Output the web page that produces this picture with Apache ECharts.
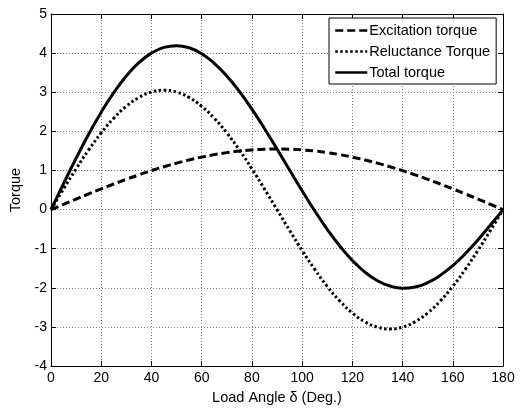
<!DOCTYPE html>
<html>
<head>
<meta charset="utf-8">
<script src="https://cdn.jsdelivr.net/npm/echarts@6/dist/echarts.min.js"></script>
<style>html,body{margin:0;padding:0;background:#fff;overflow:hidden;}#c{width:520px;height:410px;}</style>
</head>
<body>
<div id="c"></div>
<script>
// Load angle (deg.)
var angles = [0,5,10,15,20,25,30,35,40,45,50,55,60,65,70,75,80,85,90,95,100,105,110,115,120,125,130,135,140,145,150,155,160,165,170,175,180];
// Excitation torque
var excitation = [0,0.135,0.269,0.401,0.530,0.655,0.775,0.889,0.996,1.096,1.187,1.270,1.342,1.405,1.457,1.497,1.526,1.544,1.55,1.544,1.526,1.497,1.457,1.405,1.342,1.270,1.187,1.096,0.996,0.889,0.775,0.655,0.530,0.401,0.269,0.135,0];
// Reluctance torque
var reluctance = [0,0.530,1.043,1.525,1.961,2.336,2.641,2.866,3.004,3.05,3.004,2.866,2.641,2.336,1.961,1.525,1.043,0.530,0,-0.530,-1.043,-1.525,-1.961,-2.336,-2.641,-2.866,-3.004,-3.05,-3.004,-2.866,-2.641,-2.336,-1.961,-1.525,-1.043,-0.530,0];
// Total torque
var total = [0,0.665,1.312,1.926,2.491,2.991,3.416,3.755,4.000,4.146,4.191,4.136,3.983,3.741,3.418,3.022,2.569,2.074,1.55,1.014,0.483,-0.028,-0.504,-0.931,-1.299,-1.596,-1.817,-1.954,-2.008,-1.977,-1.866,-1.681,-1.431,-1.124,-0.774,-0.395,0];
var seriesNames = ['Excitation torque','Reluctance Torque','Total torque'];
var xTicks = {min:0, max:180, step:20};
var yTicks = {min:-4, max:5, step:1};

function pairs(ys){ return angles.map(function(a,i){ return [a, ys[i]]; }); }

var font = 'Liberation Sans, Arial, Helvetica, sans-serif';
var chart = echarts.init(document.getElementById('c'), null, {renderer:'canvas', width:520, height:410});
var gridLine = {show:true, lineStyle:{color:'#7a7a7a', type:[1,2], width:1}};
var axLine = {show:true, onZero:false, lineStyle:{color:'#000', width:1}};
var tick = {show:true, inside:true, length:5, lineStyle:{color:'#000', width:1}};
chart.setOption({
  animation:false,
  backgroundColor:'#fff',
  grid:{left:51, top:14, width:452, height:356, containLabel:false},
  xAxis:[{
    type:'value', min:xTicks.min, max:xTicks.max, interval:xTicks.step,
    position:'bottom',
    axisLine:axLine, axisTick:tick, splitLine:gridLine,
    axisLabel:{color:'#000', fontSize:14, fontFamily:font, margin:5},
    name:'Load Angle δ (Deg.)', nameLocation:'middle', nameGap:23,
    nameTextStyle:{color:'#000', fontSize:14.5, fontFamily:font}
  },{
    type:'value', min:xTicks.min, max:xTicks.max, interval:xTicks.step,
    position:'top',
    axisLine:axLine, axisTick:tick, splitLine:{show:false}, axisLabel:{show:false}
  }],
  yAxis:[{
    type:'value', min:yTicks.min, max:yTicks.max, interval:yTicks.step,
    position:'left',
    axisLine:axLine, axisTick:tick, splitLine:gridLine,
    axisLabel:{color:'#000', fontSize:14, fontFamily:font, margin:4},
    name:'Torque', nameLocation:'middle', nameGap:23,
    nameTextStyle:{color:'#000', fontSize:14.5, fontFamily:font}
  },{
    type:'value', min:yTicks.min, max:yTicks.max, interval:yTicks.step,
    position:'right',
    axisLine:axLine, axisTick:tick, splitLine:{show:false}, axisLabel:{show:false}
  }],
  legend:{
    orient:'vertical', left:329, top:18,
    backgroundColor:'#fff', borderColor:'#000', borderWidth:1,
    padding:[5,6,4,5], itemWidth:32, itemHeight:14, itemGap:6,
    itemStyle:{opacity:0},
    lineStyle:{width:2.5},
    textStyle:{color:'#000', fontSize:14.5, fontFamily:font, padding:[0,0,0,-3]},
    data:seriesNames
  },
  series:[
    {name:seriesNames[0], type:'line', data:pairs(excitation), smooth:true, symbol:'none',
     lineStyle:{color:'#000', width:3, type:[8,4]}, itemStyle:{color:'#000'}},
    {name:seriesNames[1], type:'line', data:pairs(reluctance), smooth:true, symbol:'none',
     lineStyle:{color:'#000', width:3, type:[2.5,2.5]}, itemStyle:{color:'#000'}},
    {name:seriesNames[2], type:'line', data:pairs(total), smooth:true, symbol:'none',
     lineStyle:{color:'#000', width:3, type:'solid'}, itemStyle:{color:'#000'}}
  ]
});
</script>
</body>
</html>
